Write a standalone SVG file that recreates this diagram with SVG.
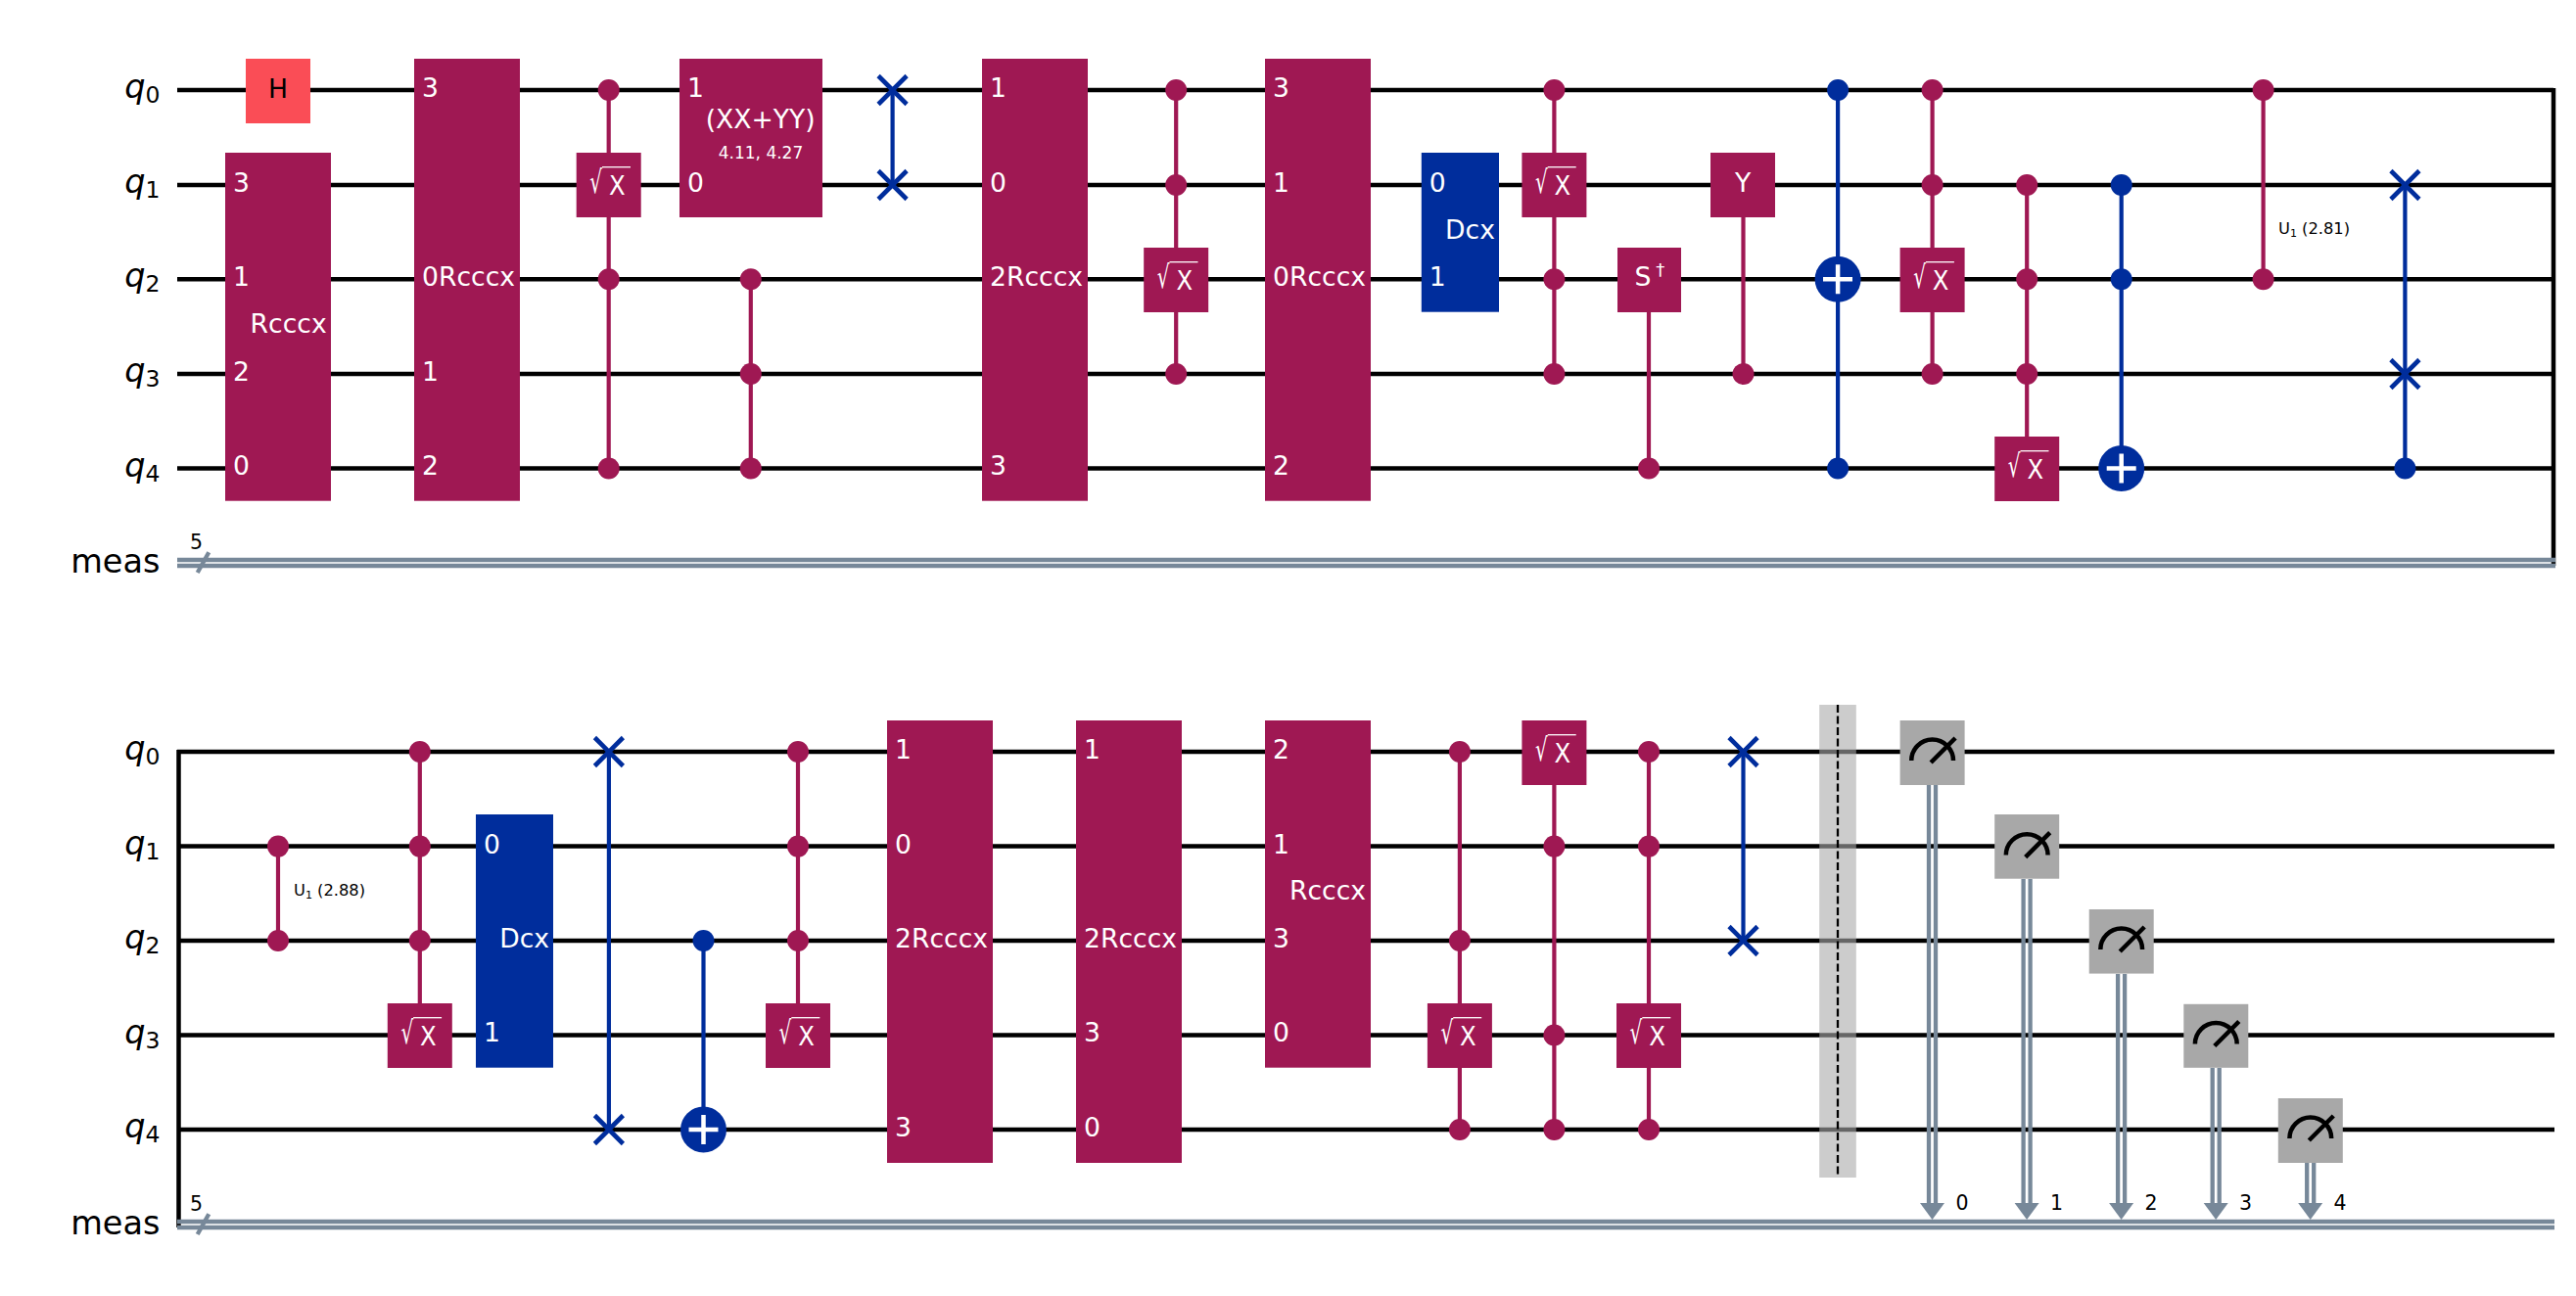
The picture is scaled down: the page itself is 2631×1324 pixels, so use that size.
<svg xmlns="http://www.w3.org/2000/svg" width="2631" height="1324" viewBox="0 0 2631 1324">
<style>
text{font-family:"DejaVu Sans",sans-serif}
.w{stroke:#000;stroke-width:4.5;fill:none}
.cr{stroke:#778899;stroke-width:4.3;fill:none}
.v{stroke:#9F1853;stroke-width:4.2;fill:none}
.vb{stroke:#002D9C;stroke-width:4.2;fill:none}
.g{fill:#9F1853}
.b{fill:#002D9C}
.m{fill:#A8A8A8}
.a{fill:#778899}
.t{fill:#fff;font-size:26.6px}
.tc{fill:#fff;font-size:26.6px;text-anchor:middle}
.s{fill:#fff;font-size:17px;text-anchor:middle}
.k{fill:#000;font-size:16.3px}
.n{fill:#000;font-size:20.5px}
.q{fill:#000;font-size:33.5px;text-anchor:end}
.qi{font-style:italic}
.sub{font-size:23.5px}
.x{stroke:#002D9C;stroke-width:4.6;fill:none}
.p{stroke:#fff;stroke-width:4.5;fill:none}
.ov{stroke:#fff;stroke-width:1.3;fill:none}
.rad{fill:#fff;font-size:32px;font-family:"DejaVu Sans Light","DejaVu Sans",sans-serif}
.xg{fill:#fff;font-size:27px}
.ic{stroke:#000;stroke-width:4.5;fill:none}
</style>
<rect x="0" y="0" width="2631" height="1324" fill="#fff"/>
<g id="connectors">
<path class="w" d="M181 92H2608M181 189H2608M181 285.3H2608M181 382H2608M181 478.5H2608M2608 90V578"/>
<path class="cr" d="M181 572H2610M181 578H2610"/>
<path class="cr" d="M201.7 585L213.3 564.3" />
<path class="w" d="M181 768H2609M181 864.6H2609M181 961H2609M181 1057.5H2609M181 1154H2609M182.5 766V1254"/>
<path class="cr" d="M181 1248H2609M181 1254H2609"/>
<path class="cr" d="M201.7 1261L213.3 1240.3"/>
<path class="v" d="M621.7 92V478.5M766.8 285.3V478.5M1201.2 92V382M1587.4 92V382M1684 285.3V478.5M1780.5 189V382M1973.6 92V382M2070.2 189V478.5M2311.6 92V285.3"/>
<path class="vb" d="M911.6 92V189M1877.1 92V478.5M2166.7 189V478.5M2456.4 189V478.5"/>
<path class="v" d="M284 864.6V961M428.8 768V1057.5M815 768V1057.5M1490.9 768V1154M1587.4 768V1154M1684 768V1154"/>
<path class="vb" d="M621.9 768V1154M718.5 961V1154M1780.5 768V961"/>
<path class="cr" d="M1970 802V1232M1977 802V1232M2066.6 898V1232M2073.6 898V1232M2163.1 995V1232M2170.1 995V1232M2259.7 1091V1232M2266.7 1091V1232M2356.2 1188V1232M2363.2 1188V1232"/>
<polygon class="a" points="1961,1229 1986,1229 1973.5,1246"/>
<polygon class="a" points="2057.6,1229 2082.6,1229 2070.1,1246"/>
<polygon class="a" points="2154.1,1229 2179.1,1229 2166.6,1246"/>
<polygon class="a" points="2250.7,1229 2275.7,1229 2263.2,1246"/>
<polygon class="a" points="2347.2,1229 2372.2,1229 2359.7,1246"/>
</g>
<g id="labels-row1">
<text class="q" x="163.4" y="100"><tspan class="qi">q</tspan><tspan class="sub" dy="5">0</tspan></text>
<text class="q" x="163.4" y="197"><tspan class="qi">q</tspan><tspan class="sub" dy="5">1</tspan></text>
<text class="q" x="163.4" y="293.3"><tspan class="qi">q</tspan><tspan class="sub" dy="5">2</tspan></text>
<text class="q" x="163.4" y="390"><tspan class="qi">q</tspan><tspan class="sub" dy="5">3</tspan></text>
<text class="q" x="163.4" y="486.5"><tspan class="qi">q</tspan><tspan class="sub" dy="5">4</tspan></text>
<text class="q" x="163.4" y="585">meas</text>
<text class="n" x="194" y="561">5</text>
</g>
<g id="labels-row2">
<text class="q" x="163.4" y="776"><tspan class="qi">q</tspan><tspan class="sub" dy="5">0</tspan></text>
<text class="q" x="163.4" y="872.6"><tspan class="qi">q</tspan><tspan class="sub" dy="5">1</tspan></text>
<text class="q" x="163.4" y="969"><tspan class="qi">q</tspan><tspan class="sub" dy="5">2</tspan></text>
<text class="q" x="163.4" y="1065.5"><tspan class="qi">q</tspan><tspan class="sub" dy="5">3</tspan></text>
<text class="q" x="163.4" y="1162"><tspan class="qi">q</tspan><tspan class="sub" dy="5">4</tspan></text>
<text class="q" x="163.4" y="1261">meas</text>
<text class="n" x="194" y="1237">5</text>
</g>

<g id="h0"><rect x="251" y="60" width="66" height="66" fill="#FA4D56"/><text x="284" y="100" font-size="26.6" text-anchor="middle" fill="#000">H</text></g>
<g id="rcccx1"><rect class="g" x="230" y="156" width="108" height="355.7"/><text class="t" x="238" y="196">3</text><text class="t" x="238" y="292">1</text><text class="t" x="238" y="389">2</text><text class="t" x="238" y="485">0</text><text class="tc" x="294.6" y="340">Rcccx</text></g>
<g id="rcccx2"><rect class="g" x="423" y="60" width="108" height="451.7"/><text class="t" x="431" y="99">3</text><text class="t" x="431" y="292">0Rcccx</text><text class="t" x="431" y="389">1</text><text class="t" x="431" y="485">2</text></g>
<g id="csx1"><circle class="g" cx="621.7" cy="92" r="11"/><circle class="g" cx="621.7" cy="285.3" r="11"/><circle class="g" cx="621.7" cy="478.5" r="11"/><g transform="translate(621.7 189)"><rect class="g" x="-33" y="-33" width="66" height="66"/><text class="rad" transform="translate(-19.4 8.3) scale(.625 1)">√</text><path class="ov" d="M-6.7 -18.3H22.3"/><text class="xg" transform="translate(.2 10) scale(.9 1)">X</text></g></g>
<g id="xxyy"><rect class="g" x="694" y="60" width="146" height="162"/><text class="t" x="702" y="99">1</text><text class="t" x="702" y="196">0</text><text class="tc" x="776.7" y="131">(XX+YY)</text><text class="s" x="777" y="162">4.11, 4.27</text></g>
<g id="ccz1"><circle class="g" cx="766.8" cy="285.3" r="11"/><circle class="g" cx="766.8" cy="382" r="11"/><circle class="g" cx="766.8" cy="478.5" r="11"/></g>
<g id="swap1"><path class="x" d="M897.1 77.5L926.1 106.5M897.1 106.5L926.1 77.5M897.1 174.5L926.1 203.5M897.1 203.5L926.1 174.5"/></g>
<g id="rcccx3"><rect class="g" x="1003" y="60" width="108" height="451.7"/><text class="t" x="1011" y="99">1</text><text class="t" x="1011" y="196">0</text><text class="t" x="1011" y="292">2Rcccx</text><text class="t" x="1011" y="485">3</text></g>
<g id="csx2"><circle class="g" cx="1201.2" cy="92" r="11"/><circle class="g" cx="1201.2" cy="189" r="11"/><circle class="g" cx="1201.2" cy="382" r="11"/><g transform="translate(1201.2 286)"><rect class="g" x="-33" y="-33" width="66" height="66"/><text class="rad" transform="translate(-19.4 8.3) scale(.625 1)">√</text><path class="ov" d="M-6.7 -18.3H22.3"/><text class="xg" transform="translate(.2 10) scale(.9 1)">X</text></g></g>
<g id="rcccx4"><rect class="g" x="1292" y="60" width="108" height="451.7"/><text class="t" x="1300" y="99">3</text><text class="t" x="1300" y="196">1</text><text class="t" x="1300" y="292">0Rcccx</text><text class="t" x="1300" y="485">2</text></g>
<g id="dcx1"><rect class="b" x="1451.8" y="156" width="79.2" height="162.7"/><text class="t" x="1459.8" y="196">0</text><text class="t" x="1459.8" y="292">1</text><text class="tc" x="1501.5" y="244">Dcx</text></g>
<g id="csx3"><circle class="g" cx="1587.4" cy="92" r="11"/><circle class="g" cx="1587.4" cy="285.3" r="11"/><circle class="g" cx="1587.4" cy="382" r="11"/><g transform="translate(1587.4 189)"><rect class="g" x="-33" y="-33" width="66" height="66"/><text class="rad" transform="translate(-19.4 8.3) scale(.625 1)">√</text><path class="ov" d="M-6.7 -18.3H22.3"/><text class="xg" transform="translate(.2 10) scale(.9 1)">X</text></g></g>
<g id="csdg"><rect class="g" x="1652" y="253" width="65" height="66"/><text class="t" x="1669.6" y="292.3">S<tspan font-size="18" dx="4.8" dy="-10">†</tspan></text><circle class="g" cx="1684" cy="478.5" r="11"/></g>
<g id="cy"><rect class="g" x="1747" y="156" width="66" height="66"/><text class="tc" x="1780" y="196">Y</text><circle class="g" cx="1780.5" cy="382" r="11"/></g>
<g id="cx1"><circle class="b" cx="1877.1" cy="92" r="11"/><circle class="b" cx="1877.1" cy="478.5" r="11"/><circle class="b" cx="1877.1" cy="285.3" r="23.5"/><path class="p" d="M1862 285.3H1892M1877.1 270.3V300.3"/></g>
<g id="csx4"><circle class="g" cx="1973.6" cy="92" r="11"/><circle class="g" cx="1973.6" cy="189" r="11"/><circle class="g" cx="1973.6" cy="382" r="11"/><g transform="translate(1973.6 286)"><rect class="g" x="-33" y="-33" width="66" height="66"/><text class="rad" transform="translate(-19.4 8.3) scale(.625 1)">√</text><path class="ov" d="M-6.7 -18.3H22.3"/><text class="xg" transform="translate(.2 10) scale(.9 1)">X</text></g></g>
<g id="csx5"><circle class="g" cx="2070.2" cy="189" r="11"/><circle class="g" cx="2070.2" cy="285.3" r="11"/><circle class="g" cx="2070.2" cy="382" r="11"/><g transform="translate(2070.2 479)"><rect class="g" x="-33" y="-33" width="66" height="66"/><text class="rad" transform="translate(-19.4 8.3) scale(.625 1)">√</text><path class="ov" d="M-6.7 -18.3H22.3"/><text class="xg" transform="translate(.2 10) scale(.9 1)">X</text></g></g>
<g id="cx2"><circle class="b" cx="2166.7" cy="189" r="11"/><circle class="b" cx="2166.7" cy="285.3" r="11"/><circle class="b" cx="2166.7" cy="478.5" r="23.5"/><path class="p" d="M2151.7 478.5H2181.7M2166.7 463.5V493.5"/></g>
<g id="cu1a"><circle class="g" cx="2311.6" cy="92" r="11"/><circle class="g" cx="2311.6" cy="285.3" r="11"/><text class="k" x="2327" y="239">U<tspan font-size="11" dy="3">1</tspan><tspan dy="-3"> (2.81)</tspan></text></g>
<g id="cswap1"><circle class="b" cx="2456.4" cy="478.5" r="11"/><path class="x" d="M2441.9 174.5L2470.9 203.5M2441.9 203.5L2470.9 174.5M2441.9 367.5L2470.9 396.5M2441.9 396.5L2470.9 367.5"/></g>

<g id="cu1b"><circle class="g" cx="284" cy="864.6" r="11"/><circle class="g" cx="284" cy="961" r="11"/><text class="k" x="300" y="915">U<tspan font-size="11" dy="3">1</tspan><tspan dy="-3"> (2.88)</tspan></text></g>
<g id="csx6"><circle class="g" cx="428.8" cy="768" r="11"/><circle class="g" cx="428.8" cy="864.6" r="11"/><circle class="g" cx="428.8" cy="961" r="11"/><g transform="translate(428.8 1058)"><rect class="g" x="-33" y="-33" width="66" height="66"/><text class="rad" transform="translate(-19.4 8.3) scale(.625 1)">√</text><path class="ov" d="M-6.7 -18.3H22.3"/><text class="xg" transform="translate(.2 10) scale(.9 1)">X</text></g></g>
<g id="dcx2"><rect class="b" x="486" y="832" width="79" height="258.7"/><text class="t" x="494" y="872">0</text><text class="t" x="494" y="1064">1</text><text class="tc" x="535.6" y="968">Dcx</text></g>
<g id="swap2"><path class="x" d="M607.4 753.5L636.4 782.5M607.4 782.5L636.4 753.5M607.4 1139.5L636.4 1168.5M607.4 1168.5L636.4 1139.5"/></g>
<g id="cx3"><circle class="b" cx="718.5" cy="961" r="11"/><circle class="b" cx="718.5" cy="1154" r="23.5"/><path class="p" d="M703.5 1154H733.5M718.5 1139V1169"/></g>
<g id="csx7"><circle class="g" cx="815" cy="768" r="11"/><circle class="g" cx="815" cy="864.6" r="11"/><circle class="g" cx="815" cy="961" r="11"/><g transform="translate(815 1058)"><rect class="g" x="-33" y="-33" width="66" height="66"/><text class="rad" transform="translate(-19.4 8.3) scale(.625 1)">√</text><path class="ov" d="M-6.7 -18.3H22.3"/><text class="xg" transform="translate(.2 10) scale(.9 1)">X</text></g></g>
<g id="rcccx5"><rect class="g" x="906" y="736" width="108" height="452"/><text class="t" x="914" y="775">1</text><text class="t" x="914" y="872">0</text><text class="t" x="914" y="968">2Rcccx</text><text class="t" x="914" y="1161">3</text></g>
<g id="rcccx6"><rect class="g" x="1099" y="736" width="108" height="452"/><text class="t" x="1107" y="775">1</text><text class="t" x="1107" y="968">2Rcccx</text><text class="t" x="1107" y="1064">3</text><text class="t" x="1107" y="1161">0</text></g>
<g id="rcccx7"><rect class="g" x="1292" y="736" width="108" height="354.7"/><text class="t" x="1300" y="775">2</text><text class="t" x="1300" y="872">1</text><text class="t" x="1300" y="968">3</text><text class="t" x="1300" y="1064">0</text><text class="tc" x="1356" y="919">Rcccx</text></g>
<g id="csx8"><circle class="g" cx="1490.9" cy="768" r="11"/><circle class="g" cx="1490.9" cy="961" r="11"/><circle class="g" cx="1490.9" cy="1154" r="11"/><g transform="translate(1490.9 1058)"><rect class="g" x="-33" y="-33" width="66" height="66"/><text class="rad" transform="translate(-19.4 8.3) scale(.625 1)">√</text><path class="ov" d="M-6.7 -18.3H22.3"/><text class="xg" transform="translate(.2 10) scale(.9 1)">X</text></g></g>
<g id="csx9"><circle class="g" cx="1587.4" cy="864.6" r="11"/><circle class="g" cx="1587.4" cy="1057.5" r="11"/><circle class="g" cx="1587.4" cy="1154" r="11"/><g transform="translate(1587.4 769)"><rect class="g" x="-33" y="-33" width="66" height="66"/><text class="rad" transform="translate(-19.4 8.3) scale(.625 1)">√</text><path class="ov" d="M-6.7 -18.3H22.3"/><text class="xg" transform="translate(.2 10) scale(.9 1)">X</text></g></g>
<g id="csx10"><circle class="g" cx="1684" cy="768" r="11"/><circle class="g" cx="1684" cy="864.6" r="11"/><circle class="g" cx="1684" cy="1154" r="11"/><g transform="translate(1684 1058)"><rect class="g" x="-33" y="-33" width="66" height="66"/><text class="rad" transform="translate(-19.4 8.3) scale(.625 1)">√</text><path class="ov" d="M-6.7 -18.3H22.3"/><text class="xg" transform="translate(.2 10) scale(.9 1)">X</text></g></g>
<g id="swap3"><path class="x" d="M1766 753.5L1795 782.5M1766 782.5L1795 753.5M1766 946.5L1795 975.5M1766 975.5L1795 946.5"/></g>
<g id="barrier"><rect x="1858.2" y="720" width="37.6" height="483" fill="#AAAAAA" opacity="0.6"/><path d="M1877 720V1202" stroke="#000" stroke-width="2.3" stroke-dasharray="8 3.5" fill="none"/></g>
<g id="m0"><rect class="m" x="1940.6" y="736" width="66" height="66"/><path class="ic" d="M1952.2 777A21.4 21.4 0 0 1 1995 777M1972.1 779L1997.1 754"/></g>
<g id="m1"><rect class="m" x="2037.2" y="832" width="66" height="65.7"/><path class="ic" d="M2048.8 873.6A21.4 21.4 0 0 1 2091.6 873.6M2068.7 875.6L2093.7 850.6"/></g>
<g id="m2"><rect class="m" x="2133.7" y="929" width="66" height="65.6"/><path class="ic" d="M2145.3 970A21.4 21.4 0 0 1 2188.1 970M2165.2 972L2190.2 947"/></g>
<g id="m3"><rect class="m" x="2230.3" y="1025.8" width="66" height="65"/><path class="ic" d="M2241.9 1066.5A21.4 21.4 0 0 1 2284.7 1066.5M2261.8 1068.5L2286.8 1043.5"/></g>
<g id="m4"><rect class="m" x="2326.8" y="1122" width="66" height="66"/><path class="ic" d="M2338.4 1163A21.4 21.4 0 0 1 2381.2 1163M2358.3 1165L2383.3 1140"/></g>
<g id="clabels"><text class="n" x="1997.5" y="1236">0</text><text class="n" x="2094" y="1236">1</text><text class="n" x="2190.5" y="1236">2</text><text class="n" x="2287" y="1236">3</text><text class="n" x="2383.5" y="1236">4</text></g>
</svg>
